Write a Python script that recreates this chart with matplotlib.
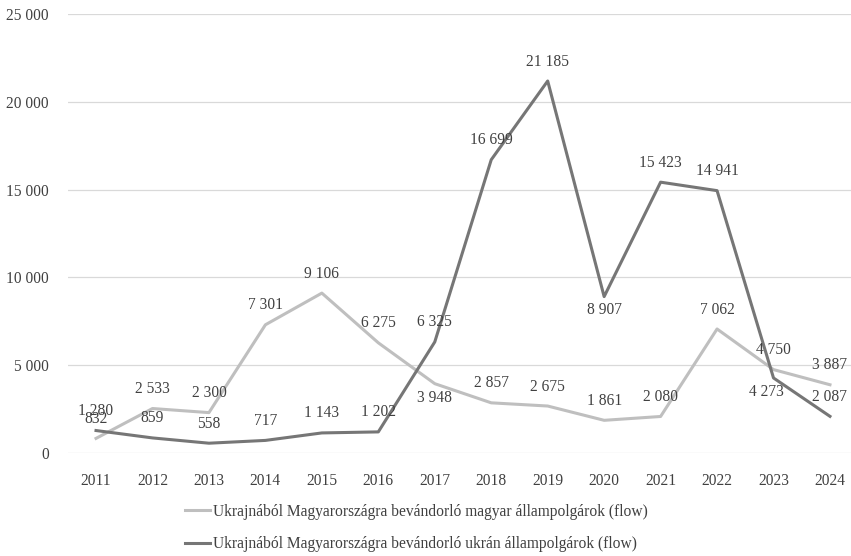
import matplotlib
matplotlib.use("Agg")
import matplotlib.pyplot as plt
from matplotlib.ticker import FuncFormatter

years = [2011, 2012, 2013, 2014, 2015, 2016, 2017, 2018, 2019, 2020, 2021, 2022, 2023, 2024]
magyar = [832, 2533, 2300, 7301, 9106, 6275, 3948, 2857, 2675, 1861, 2080, 7062, 4750, 3887]
ukran = [1280, 859, 558, 717, 1143, 1202, 6325, 16699, 21185, 8907, 15423, 14941, 4273, 2087]
name_magyar = "Ukrajnából Magyarországra bevándorló magyar állampolgárok (flow)"
name_ukran = "Ukrajnából Magyarországra bevándorló ukrán állampolgárok (flow)"
yticks = [0, 5000, 10000, 15000, 20000, 25000]

# label placement (points): default above; a few below
below_magyar = {2017}
below_ukran = {2020, 2023}
shift_x_ukran = {2023: -5}

FONT = "Liberation Serif"
FS = 11.2
TXT = "#404040"
plt.rcParams["font.family"] = [FONT, "DejaVu Serif"]

def fmt(v):
    return f"{int(v):,}".replace(",", " ")

W, H = 851, 556
fig = plt.figure(figsize=(W / 100, H / 100), dpi=100)
left, right, top, bottom = 67.8, 858.2, 14, 453
ax = fig.add_axes([left / W, 1 - bottom / H, (right - left) / W, (bottom - top) / H])

x = list(range(len(years)))
c_light = "#BFBFBF"
c_dark = "#767676"
l1, = ax.plot(x, magyar, color=c_light, lw=2.2, solid_joinstyle="round", label=name_magyar, zorder=3)
l2, = ax.plot(x, ukran, color=c_dark, lw=2.2, solid_joinstyle="round", label=name_ukran, zorder=4)

def annotate(vals, below, shifts):
    for i, (yr, v) in enumerate(zip(years, vals)):
        dy = -10 if yr in below else 14
        dx = shifts.get(yr, 0)
        ax.annotate(fmt(v), (i, v), xytext=(dx, dy), textcoords="offset points",
                    ha="center", va="center", fontsize=FS, color=TXT, zorder=5)

annotate(magyar, below_magyar, {})
annotate(ukran, below_ukran, shift_x_ukran)

ax.set_xlim(-0.5, len(years) - 0.5)
ax.set_ylim(0, 25000)
ax.set_yticks(yticks)
ax.yaxis.set_major_formatter(FuncFormatter(lambda v, p: fmt(v)))
ax.set_xticks(x)
ax.set_xticklabels([str(y) for y in years])
ax.tick_params(axis="both", length=0, labelsize=FS, labelcolor=TXT)
ax.tick_params(axis="y", pad=13.5)
ax.tick_params(axis="x", pad=14.5)
ax.grid(axis="y", color="#D9D9D9", lw=0.9, zorder=0)
ax.set_axisbelow(True)
for s in ax.spines.values():
    s.set_visible(False)

fig.legend(handles=[l1, l2], loc="center left",
           bbox_to_anchor=(185 / W, 1 - 528 / H), frameon=False,
           fontsize=FS, handlelength=1.6, handletextpad=0.2, labelspacing=1.05,
           borderpad=0, borderaxespad=0, labelcolor=TXT)

fig.savefig("out.png", dpi=100)
